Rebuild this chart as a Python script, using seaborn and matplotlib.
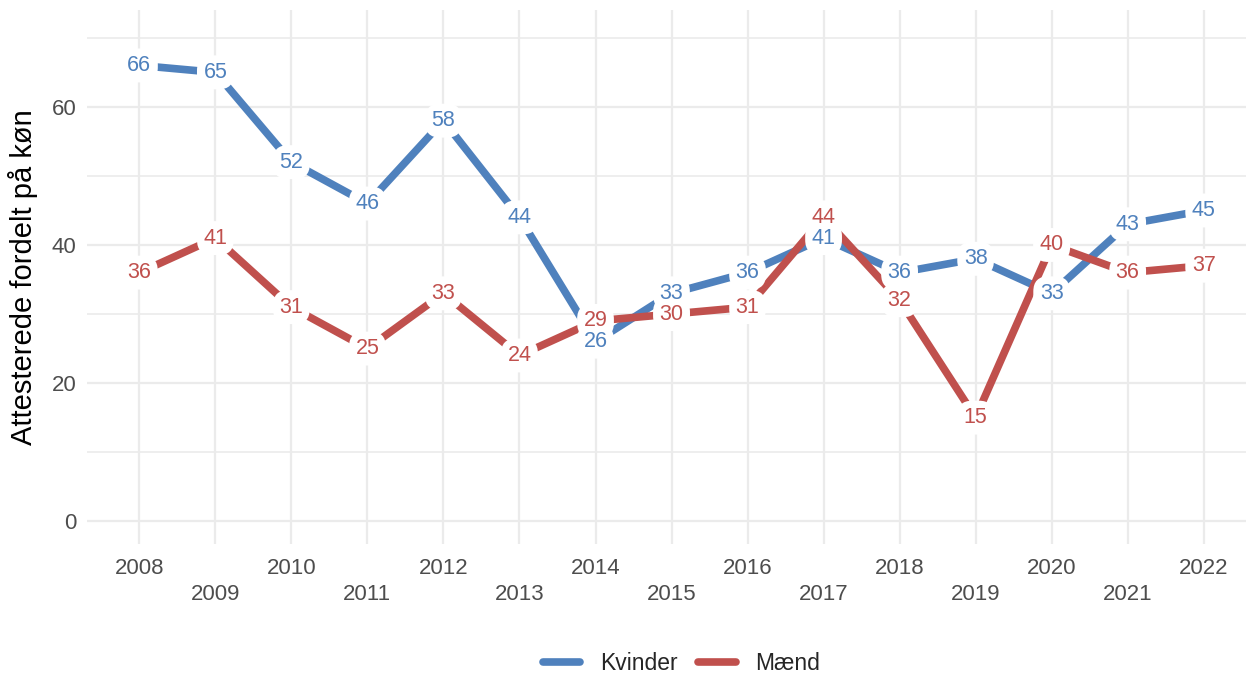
import numpy as np
import pandas as pd
import matplotlib.pyplot as plt
import seaborn as sns

years = list(range(2008, 2023))
kvinder = [66, 65, 52, 46, 58, 44, 26, 33, 36, 41, 36, 38, 33, 43, 45]
maend = [36, 41, 31, 25, 33, 24, 29, 30, 31, 44, 32, 15, 40, 36, 37]
groups = ["Kvinder", "Mænd"]
colors = {"Kvinder": "#4F81BD", "Mænd": "#C0504D"}

df = pd.DataFrame({
    "year": years * 2,
    "value": kvinder + maend,
    "group": ["Kvinder"] * len(years) + ["Mænd"] * len(years),
})

sns.set_theme(style="whitegrid")
plt.rcParams["font.family"] = ["Liberation Sans", "DejaVu Sans"]

fig, ax = plt.subplots(figsize=(12.48, 6.8), dpi=100)
sns.lineplot(data=df, x="year", y="value", hue="group", hue_order=groups,
             palette=colors, linewidth=5.5, ax=ax, legend=True)

# white label backgrounds first, then the numbers on top of all of them
for _, row in df.iterrows():
    ax.text(row["year"], row["value"], f"{row['value']}", ha="center", va="center",
            fontsize=15.5, color="none", zorder=5,
            bbox=dict(boxstyle="round,pad=0.3,rounding_size=0.7", fc="white", ec="none"))
for _, row in df.iterrows():
    ax.text(row["year"], row["value"], f"{row['value']}", ha="center", va="center",
            fontsize=15.5, color=colors[row["group"]], zorder=6)

ax.set_xlim(2007.316, 2022.55)
ax.set_ylim(-3.3, 74)
ax.set_yticks([0, 20, 40, 60])
ax.set_yticks([10, 30, 50, 70], minor=True)
ax.set_xticks(years)
ax.set_xticklabels([str(y) if (y % 2 == 0) else "\n" + str(y) for y in years],
                   linespacing=1.3)
ax.tick_params(axis="both", labelsize=16, labelcolor="#4D4D4D", length=0)
ax.tick_params(axis="x", pad=10)
ax.tick_params(axis="y", pad=8)
ax.grid(True, which="major", color="#EBEBEB", linewidth=1.6)
ax.grid(True, which="minor", axis="y", color="#EBEBEB", linewidth=1.2)
for s in ax.spines.values():
    s.set_visible(False)
ax.set_xlabel("")
ax.set_ylabel("Attesterede fordelt på køn", fontsize=21, color="black", labelpad=10)

ax.get_legend().remove()
handles, labels = ax.get_legend_handles_labels()
leg = fig.legend(handles, labels, loc="center", bbox_to_anchor=(0.546, 0.024), ncol=2,
                 frameon=False, fontsize=16.5, handlelength=1.65, columnspacing=0.9,
                 handletextpad=0.85, borderpad=0.1)
for line in leg.get_lines():
    line.set_linewidth(5.5)

fig.subplots_adjust(left=0.07, right=0.998, top=0.985, bottom=0.2)
fig.savefig("out.png", dpi=100)
plt.close(fig)
